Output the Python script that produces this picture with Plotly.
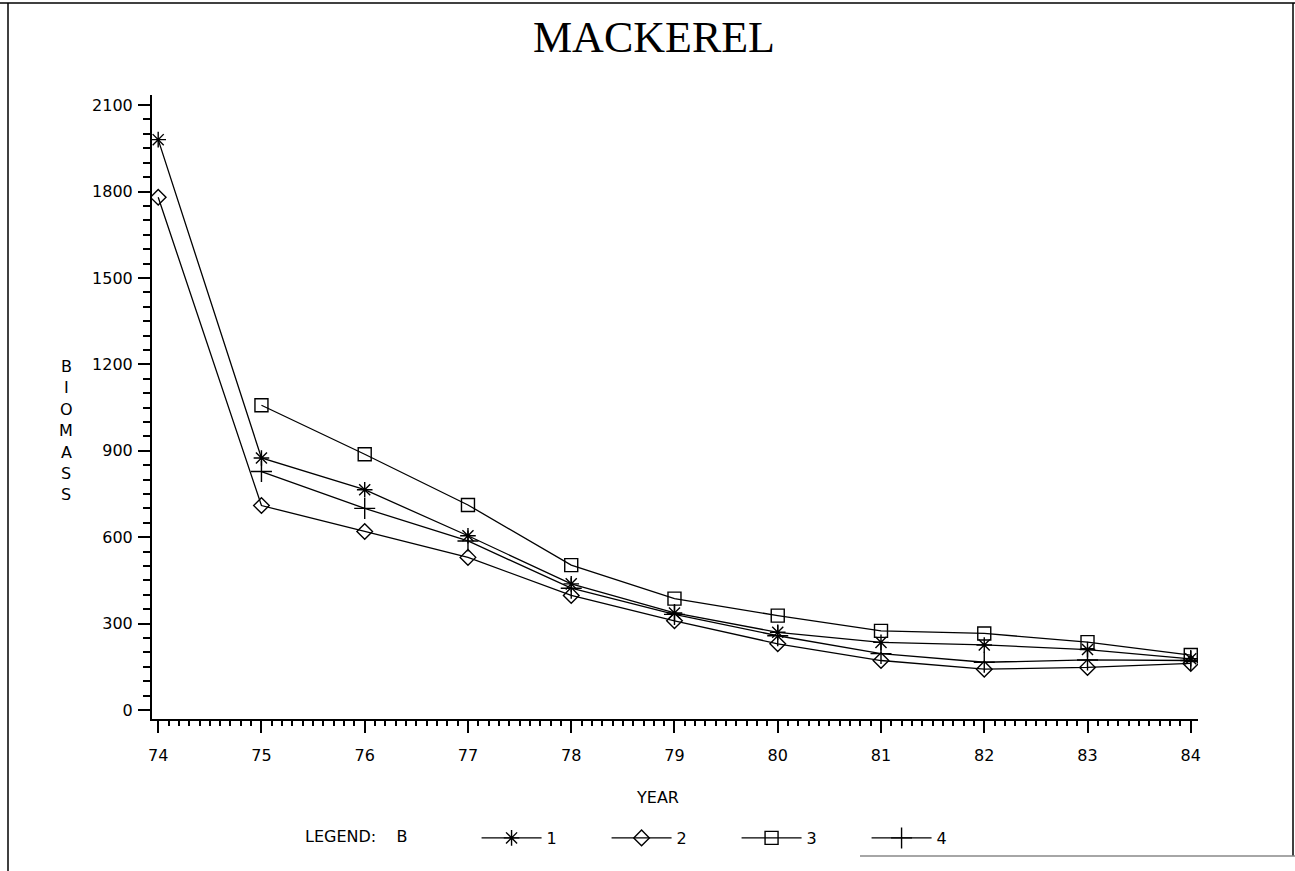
import plotly.graph_objects as go

# ---- data ----
years = [74, 75, 76, 77, 78, 79, 80, 81, 82, 83, 84]
series_names = ["1", "2", "3", "4"]
s1 = [1980, 875, 765, 605, 438, 337, 270, 235, 226, 210, 178]
s2 = [1780, 710, 620, 530, 398, 310, 230, 172, 142, 148, 162]
s3 = [None, 1058, 888, 712, 503, 387, 328, 275, 266, 236, 191]
s4 = [None, 828, 700, 587, 423, 332, 258, 196, 166, 174, 172]
symbols = ["asterisk-open", "diamond-open", "square-open", "cross-thin-open"]
sizes = [13, 12, 13, 15]
y_letters = list("BIOMASS")

W, H = 1295, 871
L, R, T, B = 152, 1198, 95, 719


def px(x):
    return (x - L) / (R - L)


def py(y):
    return (B - y) / (B - T)


FONT = "DejaVu Sans"
FS = 16
fig = go.Figure()
for name, vals, sym, sz in zip(series_names, [s1, s2, s3, s4], symbols, sizes):
    fig.add_trace(go.Scatter(
        x=years, y=vals, name=name, mode="lines+markers",
        line=dict(color="black", width=1.3),
        marker=dict(symbol=sym, size=sz, color="black",
                    line=dict(color="black", width=1.4)),
        connectgaps=False,
    ))

annotations = []
ys = [366, 387.5, 409, 430.5, 452, 473.5, 495]
for ch, yy in zip(y_letters, ys):
    annotations.append(dict(text=ch, x=px(66), y=py(yy), xref="paper", yref="paper",
                            showarrow=False, xanchor="center", yanchor="middle",
                            font=dict(family=FONT, size=FS, color="black")))
annotations.append(dict(text="YEAR", x=px(657), y=py(797), xref="paper", yref="paper",
                        showarrow=False, xanchor="center", yanchor="middle",
                        font=dict(family=FONT, size=FS, color="black")))

shapes = [
    dict(type="line", xref="paper", yref="paper", x0=px(0), x1=px(1295), y0=py(3), y1=py(3),
         line=dict(color="black", width=1.5)),
    dict(type="line", xref="paper", yref="paper", x0=px(8), x1=px(8), y0=py(3), y1=py(871),
         line=dict(color="black", width=1.5)),
    dict(type="line", xref="paper", yref="paper", x0=px(1293), x1=px(1293), y0=py(3), y1=py(856),
         line=dict(color="black", width=1.5)),
    dict(type="line", xref="paper", yref="paper", x0=px(860), x1=px(1295), y0=py(856), y1=py(856),
         line=dict(color="#888888", width=1.5)),
]

nb = "&nbsp;"
fig.update_layout(
    width=W, height=H,
    margin=dict(l=L, r=W - R, t=T, b=H - B, autoexpand=False),
    paper_bgcolor="white", plot_bgcolor="white",
    title=dict(text="MACKEREL", x=654 / W, y=1 - 37 / H, xref="container", yref="container",
               xanchor="center", yanchor="middle",
               font=dict(family="Liberation Serif", size=44, color="black")),
    font=dict(family=FONT, size=FS, color="black"),
    xaxis=dict(range=[73.94, 84.07], tickmode="linear", tick0=74, dtick=1,
               ticks="outside", ticklen=12, tickwidth=2, tickcolor="black",
               showline=True, linewidth=2, linecolor="black",
               showgrid=False, zeroline=False, ticklabelstandoff=9,
               tickfont=dict(family=FONT, size=FS, color="black"),
               minor=dict(tick0=74, dtick=0.1, ticks="outside", ticklen=5, tickwidth=1.5,
                          tickcolor="black", showgrid=False)),
    yaxis=dict(range=[-31, 2135], tickmode="linear", tick0=0, dtick=300,
               ticks="outside", ticklen=12, tickwidth=2, tickcolor="black",
               showline=True, linewidth=2, linecolor="black",
               showgrid=False, zeroline=False, ticklabelstandoff=2,
               tickfont=dict(family=FONT, size=FS, color="black"),
               minor=dict(tick0=0, dtick=50, ticks="outside", ticklen=7, tickwidth=1.5,
                          tickcolor="black", showgrid=False)),
    legend=dict(orientation="h", x=px(303), y=py(838), xanchor="left", yanchor="middle",
                xref="paper", yref="paper",
                title=dict(text="LEGEND:" + nb * 4 + "B" + nb * 12,
                           side="left", font=dict(family=FONT, size=FS, color="black")),
                font=dict(family=FONT, size=FS, color="black"),
                entrywidth=55, entrywidthmode="pixels", itemwidth=60,
                bgcolor="rgba(0,0,0,0)"),
    annotations=annotations,
    shapes=shapes,
    showlegend=True,
)

fig.write_html("out.html")
